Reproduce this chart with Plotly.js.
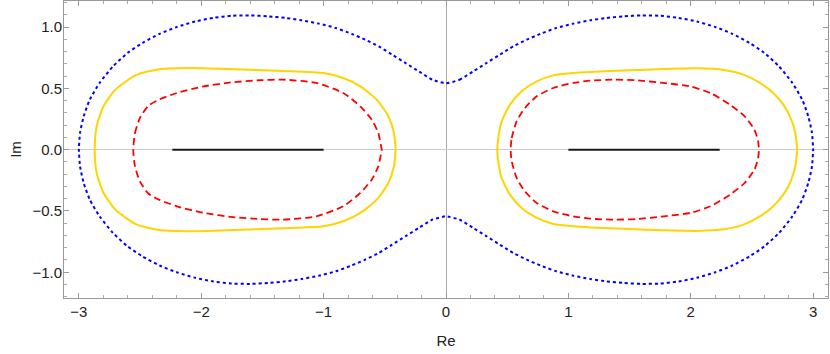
<!DOCTYPE html>
<html>
<head>
<meta charset="utf-8">
<script src="https://cdn.plot.ly/plotly-3.0.1.min.js"></script>
<style>
  html, body { margin: 0; padding: 0; background: #fff; }
  #plot { width: 830px; height: 354px; }
</style>
</head>
<body>
<div id="plot"></div>
<script>
// outer blue curve, upper-right quarter (the curve is symmetric in both axes)
const blueX = [0, 0.11, 0.22, 0.33, 0.44, 0.55, 0.66, 0.77, 0.90, 1.04, 1.18, 1.31, 1.45, 1.60, 1.75, 1.90, 2.05, 2.20, 2.34, 2.48, 2.60, 2.72, 2.83, 2.91, 2.96, 2.99, 3.0];
const blueY = [0.542, 0.57, 0.637, 0.706, 0.775, 0.843, 0.897, 0.944, 0.992, 1.028, 1.055, 1.074, 1.087, 1.095, 1.092, 1.075, 1.045, 1.0, 0.945, 0.87, 0.79, 0.68, 0.544, 0.408, 0.272, 0.136, 0];

// yellow curves, upper halves
const yellowRightX = [0.419, 0.427, 0.455, 0.523, 0.618, 0.741, 0.877, 1.04, 1.18, 1.50, 1.78, 2.05, 2.27, 2.43, 2.565, 2.674, 2.756, 2.816, 2.854, 2.87];
const yellowRightY = [0, 0.095, 0.231, 0.367, 0.476, 0.557, 0.606, 0.625, 0.634, 0.647, 0.658, 0.663, 0.65, 0.612, 0.544, 0.462, 0.367, 0.258, 0.136, 0];
const yellowLeftX = [-2.87, -2.854, -2.80, -2.70, -2.53, -2.34, -2.07, -1.79, -1.55, -1.33, -1.0, -0.84, -0.70, -0.566, -0.471, -0.425, -0.411];
const yellowLeftY = [0, 0.19, 0.35, 0.49, 0.61, 0.656, 0.666, 0.658, 0.65, 0.642, 0.625, 0.584, 0.516, 0.408, 0.272, 0.136, 0];

// red dashed curves, upper halves
const redRightX = [0.528, 0.537, 0.577, 0.645, 0.741, 0.877, 1.04, 1.18, 1.37, 1.55, 1.78, 2.0, 2.16, 2.32, 2.44, 2.52, 2.55, 2.557];
const redRightY = [0, 0.095, 0.231, 0.34, 0.435, 0.503, 0.544, 0.563, 0.571, 0.566, 0.544, 0.515, 0.462, 0.367, 0.272, 0.163, 0.07, 0];
const redLeftX = [-2.555, -2.541, -2.50, -2.43, -2.34, -2.20, -1.98, -1.74, -1.52, -1.33, -1.06, -0.84, -0.70, -0.607, -0.553, -0.525];
const redLeftY = [0, 0.136, 0.26, 0.36, 0.41, 0.462, 0.516, 0.55, 0.566, 0.571, 0.544, 0.462, 0.353, 0.245, 0.136, 0];

// black cuts on the real axis
const cutRightX = [1, 2.236];
const cutLeftX = [-2.236, -1];

// close an upper half by mirroring it below the real axis
function closeHalf(xs, ys) {
    const x = xs.concat(xs.slice().reverse());
    const y = ys.concat(ys.slice().reverse().map(v => -v));
    return { x, y };
}

// full blue curve from its quarter
function fullFromQuarter(xs, ys) {
    const rx = xs.slice().reverse(), ry = ys.slice().reverse();
    const x = xs.concat(rx, xs.map(v => -v), rx.map(v => -v));
    const y = ys.concat(ry.map(v => -v), ys.map(v => -v), ry);
    return { x, y };
}

const blue = fullFromQuarter(blueX, blueY);
const yR = closeHalf(yellowRightX, yellowRightY);
const yL = closeHalf(yellowLeftX, yellowLeftY);
const rR = closeHalf(redRightX, redRightY);
const rL = closeHalf(redLeftX, redLeftY);

const yellowStyle = { color: 'rgb(255,212,0)', width: 2, shape: 'spline', smoothing: 0.6 };
const redStyle = { color: 'rgb(255,0,0)', width: 1.8, dash: '7px,4px', shape: 'spline', smoothing: 0.6 };

const traces = [
    { x: blue.x, y: blue.y, mode: 'lines', line: { color: 'rgb(0,0,255)', width: 2, dash: 'dot', shape: 'spline', smoothing: 0.6 } },
    { x: yR.x, y: yR.y, mode: 'lines', line: yellowStyle },
    { x: yL.x, y: yL.y, mode: 'lines', line: yellowStyle },
    { x: rR.x, y: rR.y, mode: 'lines', line: redStyle },
    { x: rL.x, y: rL.y, mode: 'lines', line: redStyle },
    { x: cutRightX, y: [0, 0], mode: 'lines', line: { color: '#1a1a1a', width: 2 } },
    { x: cutLeftX, y: [0, 0], mode: 'lines', line: { color: '#1a1a1a', width: 2 } },
    // empty trace so the label-only axis is drawn
    { x: [], y: [], yaxis: 'y2', mode: 'lines', hoverinfo: 'skip' },
];

const tickFont = { family: 'Liberation Sans, Arial, sans-serif', size: 15, color: '#222' };
const yRange = [-1.21, 1.2125];

const layout = {
    width: 830,
    height: 354,
    showlegend: false,
    paper_bgcolor: '#fff',
    plot_bgcolor: '#fff',
    margin: { l: 64, r: 2, t: 1, b: 56 },
    xaxis: {
        range: [-3.121, 3.121],
        domain: [0, 1],
        tickmode: 'linear', tick0: 0, dtick: 1,
        ticks: 'inside', ticklen: 5, tickcolor: '#999', tickwidth: 1,
        minor: { tickmode: 'linear', tick0: 0, dtick: 0.2, ticks: 'inside', ticklen: 3, tickcolor: '#aaa' },
        showline: true, linecolor: '#999', linewidth: 1, mirror: 'ticks',
        showgrid: false,
        zeroline: true, zerolinecolor: '#aaa', zerolinewidth: 1,
        tickfont: tickFont,
        ticklabelstandoff: 0,
        title: { text: 'Re', font: tickFont, standoff: 16 },
        automargin: false,
    },
    yaxis: {
        range: yRange,
        tickmode: 'linear', tick0: 0, dtick: 0.5,
        ticks: 'inside', ticklen: 5, tickcolor: '#999', tickwidth: 1,
        minor: { tickmode: 'linear', tick0: 0, dtick: 0.1, ticks: 'inside', ticklen: 3, tickcolor: '#aaa' },
        showline: true, linecolor: '#999', linewidth: 1, mirror: 'ticks',
        showgrid: false,
        showticklabels: false,
        zeroline: true, zerolinecolor: '#ccc', zerolinewidth: 1,
        title: { text: 'Im', font: tickFont, standoff: 37 },
        automargin: false,
    },
    // tick labels only, set a little closer to the frame
    yaxis2: {
        range: yRange,
        overlaying: 'y',
        anchor: 'free',
        side: 'left',
        position: 0,
        tickmode: 'linear', tick0: 0, dtick: 0.5, tickformat: '.1f',
        ticks: '', showline: false, showgrid: false, zeroline: false,
        tickfont: tickFont,
        ticklabelstandoff: 2,
        automargin: false,
    },
};

Plotly.newPlot('plot', traces, layout, { staticPlot: true, displayModeBar: false });
</script>
</body>
</html>
